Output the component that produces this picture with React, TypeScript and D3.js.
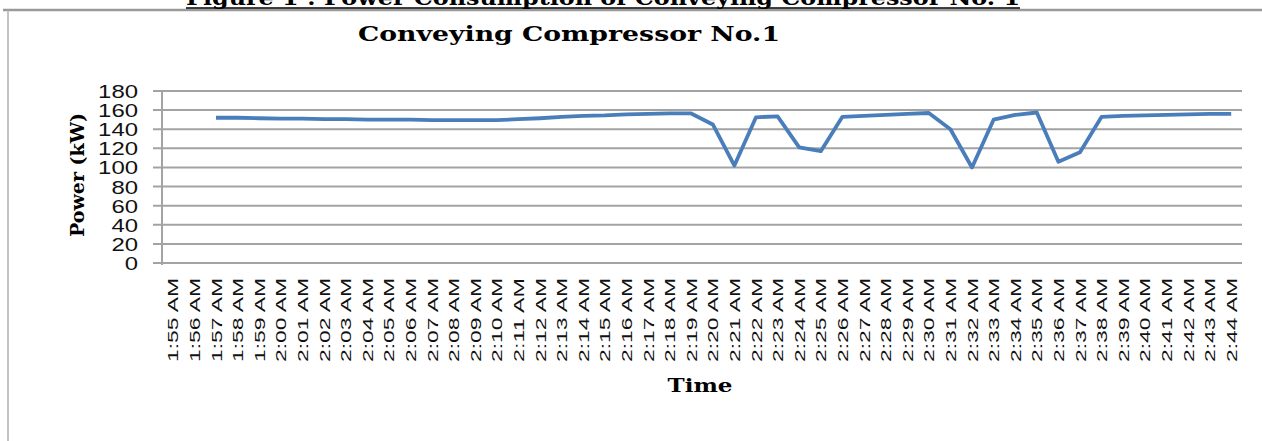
import { useEffect, useRef } from "react";
import * as d3 from "d3";

// minutes from 1:55 AM to 2:44 AM
const times = [
  "1:55 AM", "1:56 AM", "1:57 AM", "1:58 AM", "1:59 AM", "2:00 AM", "2:01 AM",
  "2:02 AM", "2:03 AM", "2:04 AM", "2:05 AM", "2:06 AM", "2:07 AM", "2:08 AM",
  "2:09 AM", "2:10 AM", "2:11 AM", "2:12 AM", "2:13 AM", "2:14 AM", "2:15 AM",
  "2:16 AM", "2:17 AM", "2:18 AM", "2:19 AM", "2:20 AM", "2:21 AM", "2:22 AM",
  "2:23 AM", "2:24 AM", "2:25 AM", "2:26 AM", "2:27 AM", "2:28 AM", "2:29 AM",
  "2:30 AM", "2:31 AM", "2:32 AM", "2:33 AM", "2:34 AM", "2:35 AM", "2:36 AM",
  "2:37 AM", "2:38 AM", "2:39 AM", "2:40 AM", "2:41 AM", "2:42 AM", "2:43 AM",
  "2:44 AM",
];

const power = [
  null, null, 152, 152, 151.5, 151, 151, 150.5, 150.5, 150,
  150, 150, 149.5, 149.5, 149.5, 149.5, 150.5, 151.5, 153, 154,
  154.5, 155.5, 156, 156.5, 156.5, 145, 102, 152.5, 153.5, 121,
  117, 153, 154, 155, 156, 157, 140, 100, 150, 155,
  157.5, 106, 116, 153, 154, 154.5, 155, 155.5, 156, 156,
];

const yTicks = [0, 20, 40, 60, 80, 100, 120, 140, 160, 180];

const W = 1262;
const H = 441;

const App = () => {
  const svgRef = useRef();

  useEffect(() => {
    const svg = d3.select(svgRef.current);
    svg.selectAll("*").remove();

    const x = d3.scaleBand().domain(times).range([162, 1242]).padding(0);
    const y = d3.scaleLinear().domain([0, 180]).range([263, 91]);
    const cx = (t) => x(t) + x.bandwidth() / 2;

    // page frame
    svg.append("line")
      .attr("x1", 3).attr("x2", W).attr("y1", 10).attr("y2", 10)
      .attr("stroke", "#9a9a9a").attr("stroke-width", 2.5);
    svg.append("line")
      .attr("x1", 8).attr("x2", 8).attr("y1", 10).attr("y2", H)
      .attr("stroke", "#b0b0b0").attr("stroke-width", 1.5);

    // figure caption, cut by the top edge like the source scan
    svg.append("text")
      .attr("x", 186).attr("y", 5)
      .attr("textLength", 834).attr("lengthAdjust", "spacingAndGlyphs")
      .style("font-family", "'DejaVu Serif', serif")
      .style("font-weight", "bold").style("font-size", "21px")
      .text("Figure 1 : Power Consumption of Conveying Compressor No. 1");
    svg.append("line")
      .attr("x1", 186).attr("x2", 1020).attr("y1", 8).attr("y2", 8)
      .attr("stroke", "#000").attr("stroke-width", 1.5);

    // chart title
    svg.append("text")
      .attr("x", 358).attr("y", 41)
      .attr("textLength", 422).attr("lengthAdjust", "spacingAndGlyphs")
      .style("font-family", "'DejaVu Serif', serif")
      .style("font-weight", "bold").style("font-size", "21px")
      .text("Conveying Compressor No.1");

    // gridlines + ticks
    svg.append("g")
      .selectAll("line")
      .data(yTicks)
      .join("line")
      .attr("x1", 153).attr("x2", 1242)
      .attr("y1", (d) => y(d)).attr("y2", (d) => y(d))
      .attr("stroke", "#a3a3a3").attr("stroke-width", 2);

    svg.append("line")
      .attr("x1", 162).attr("x2", 162).attr("y1", y(180)).attr("y2", y(0) + 2)
      .attr("stroke", "#a3a3a3").attr("stroke-width", 2);

    svg.append("g")
      .selectAll("text")
      .data(yTicks)
      .join("text")
      .attr("x", 138).attr("y", (d) => y(d) + 7)
      .attr("text-anchor", "end")
      .attr("textLength", (d) => String(d).length * 13.3)
      .attr("lengthAdjust", "spacingAndGlyphs")
      .style("font-family", "'Liberation Sans', Arial, sans-serif")
      .style("font-size", "19px").attr("fill", "#111")
      .text((d) => d);

    // x labels
    svg.append("g")
      .selectAll("text")
      .data(times)
      .join("text")
      .attr("transform", (d) => `translate(${cx(d) + 5.5},278) rotate(-90)`)
      .attr("text-anchor", "end")
      .attr("textLength", 84)
      .attr("lengthAdjust", "spacingAndGlyphs")
      .style("font-family", "'Liberation Sans', Arial, sans-serif")
      .style("font-size", "15px").attr("fill", "#111")
      .text((d) => d);

    // axis titles
    svg.append("text")
      .attr("transform", "translate(84,175) rotate(-90)")
      .attr("text-anchor", "middle")
      .attr("textLength", 124).attr("lengthAdjust", "spacingAndGlyphs")
      .style("font-family", "'DejaVu Serif', serif")
      .style("font-weight", "bold").style("font-size", "19px")
      .text("Power (kW)");
    svg.append("text")
      .attr("x", 700).attr("y", 392)
      .attr("text-anchor", "middle")
      .attr("textLength", 65).attr("lengthAdjust", "spacingAndGlyphs")
      .style("font-family", "'DejaVu Serif', serif")
      .style("font-weight", "bold").style("font-size", "19px")
      .text("Time");

    // series
    const line = d3.line()
      .defined((d) => d.v != null)
      .x((d) => cx(d.t))
      .y((d) => y(d.v));
    svg.append("path")
      .datum(times.map((t, i) => ({ t, v: power[i] })))
      .attr("fill", "none")
      .attr("stroke", "#4a7ebb")
      .attr("stroke-width", 3.8)
      .attr("stroke-linejoin", "round")
      .attr("d", line);
  }, []);

  return (
    <svg
      ref={svgRef}
      width={W}
      height={H}
      style={{ position: "absolute", left: 0, top: 0, background: "#fff" }}
    ></svg>
  );
};

export default App;
